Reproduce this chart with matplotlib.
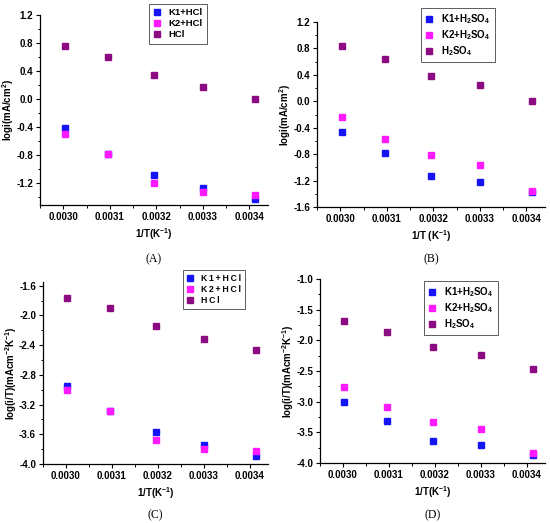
import matplotlib
matplotlib.use("Agg")
import matplotlib.pyplot as plt
from matplotlib.ticker import MultipleLocator, FormatStrFormatter

plt.rcParams['font.family'] = ['Liberation Sans', 'DejaVu Sans']
plt.rcParams['font.weight'] = 'bold'
plt.rcParams['mathtext.fontset'] = 'custom'
plt.rcParams['mathtext.bf'] = 'Liberation Sans:bold'
plt.rcParams['mathtext.rm'] = 'Liberation Sans:bold'
plt.rcParams['mathtext.default'] = 'bf'

# 1/T values (K^-1) for 333, 323, 313, 303, 293 K
inv_T = [0.003003, 0.003096, 0.003195, 0.003300, 0.003413]

# (A) log i, HCl
a_k1 = [-0.42, -0.79, -1.09, -1.28, -1.43]
a_k2 = [-0.50, -0.79, -1.20, -1.33, -1.37]
a_acid = [0.76, 0.605, 0.346, 0.164, -0.005]

# (B) log i, H2SO4
b_k1 = [-0.47, -0.78, -1.125, -1.215, -1.38]
b_k2 = [-0.237, -0.565, -0.817, -0.959, -1.362]
b_acid = [0.832, 0.646, 0.383, 0.242, 0.0]

# (C) log(i/T), HCl
c_k1 = [-2.945, -3.28, -3.57, -3.75, -3.888]
c_k2 = [-3.008, -3.28, -3.68, -3.80, -3.83]
c_acid = [-1.766, -1.90, -2.143, -2.317, -2.47]

# (D) log(i/T), H2SO4
d_k1 = [-2.998, -3.308, -3.635, -3.705, -3.874]
d_k2 = [-2.769, -3.085, -3.324, -3.443, -3.836]
d_acid = [-1.691, -1.866, -2.116, -2.241, -2.475]

hcl_names = ['K1+HCl', 'K2+HCl', 'HCl']
h2so4_names = ['K1+H$_2$SO$_4$', 'K2+H$_2$SO$_4$', 'H$_2$SO$_4$']
colors = ['#1414f5', '#ff1aff', '#8c0a82']

W, H = 550, 523
fig = plt.figure(figsize=(W / 100, H / 100), dpi=100)


def rect(left, top, right, bottom):
    return [left / W, 1 - bottom / H, (right - left) / W, (bottom - top) / H]


panels = [
    dict(r=rect(40, 15, 268, 205), data=(a_k1, a_k2, a_acid), names=hcl_names,
         ylim=(-1.52, 1.2), major=0.4, minor=0.2, ylab_x=-0.105,
         ylabel='logi(mA/cm$^2$)', xlabel='1/T(K$^{-1}$)',
         leg=(149, 4), legsize=6.8, tag='(A)', tag_y=259, spaced=False),
    dict(r=rect(317, 22, 545, 207), data=(b_k1, b_k2, b_acid), names=h2so4_names,
         ylim=(-1.6, 1.2), major=0.4, minor=0.2, ylab_x=-0.105,
         ylabel='logi(mA/cm$^2$)', xlabel='1/T (K$^{-1}$)',
         leg=(421, 8), legsize=7, tag='(B)', tag_y=259, spaced=False),
    dict(r=rect(43, 282, 268, 464), data=(c_k1, c_k2, c_acid), names=hcl_names,
         ylim=(-4.0, -1.55), major=0.4, minor=0.2, ylab_x=-0.107,
         ylabel='log(i/T)(mAcm$^{-2}$K$^{-1}$)', xlabel='1/T(K$^{-1}$)',
         leg=(183, 270), legsize=6.2, tag='(C)', tag_y=515, spaced=True),
    dict(r=rect(320, 279, 545, 463), data=(d_k1, d_k2, d_acid), names=h2so4_names,
         ylim=(-4.0, -1.0), major=0.5, minor=0.25, ylab_x=-0.107,
         ylabel='log(i/T)(mAcm$^{-2}$K$^{-1}$)', xlabel='1/T(K$^{-1}$)',
         leg=(424, 281), legsize=7, tag='(D)', tag_y=515, spaced=False),
]

for p in panels:
    ax = fig.add_axes(p['r'])
    for vals, name, col in zip(p['data'], p['names'], colors):
        label = '\u2009'.join(name) if p['spaced'] else name
        ax.plot(inv_T, vals, 's', ms=4.6, color=col, mec=col, label=label)
    ax.set_xlim(0.00295, 0.00344)
    ax.set_ylim(*p['ylim'])
    ax.spines['top'].set_visible(False)
    ax.spines['right'].set_visible(False)
    for s in ('left', 'bottom'):
        ax.spines[s].set_linewidth(0.9)
    ax.xaxis.set_major_locator(MultipleLocator(0.0001))
    ax.xaxis.set_minor_locator(MultipleLocator(0.00005))
    ax.xaxis.set_major_formatter(FormatStrFormatter('%.4f'))
    ax.yaxis.set_major_locator(MultipleLocator(p['major']))
    ax.yaxis.set_minor_locator(MultipleLocator(p['minor']))
    ax.yaxis.set_major_formatter(FormatStrFormatter('%.1f'))
    ax.tick_params(which='major', direction='out', length=3, width=0.8, labelsize=7, pad=2)
    ax.tick_params(which='minor', direction='out', length=1.8, width=0.7)
    for lab in ax.get_xticklabels() + ax.get_yticklabels():
        lab.set_fontweight('bold')
    ax.set_ylabel(p['ylabel'], fontsize=7, fontweight='bold')
    ax.yaxis.set_label_coords(p['ylab_x'], 0.5)
    ax.set_xlabel(p['xlabel'], fontsize=7, fontweight='bold', labelpad=3)
    lx, ly = p['leg']
    leg = ax.legend(loc='upper left', bbox_to_anchor=(lx / W, 1 - ly / H),
                    bbox_transform=fig.transFigure, frameon=True, fancybox=False,
                    fontsize=p['legsize'], handlelength=0.7, handletextpad=0.9,
                    borderpad=0.45, labelspacing=0.22, borderaxespad=0)
    leg.get_frame().set_edgecolor('#333333')
    leg.get_frame().set_linewidth(0.7)
    for t in leg.get_texts():
        t.set_fontweight('bold')
    cx = (p['r'][0] + p['r'][2] / 2)
    fig.text(cx, 1 - p['tag_y'] / H, p['tag'], ha='center', va='center',
             fontsize=8.5, family='Liberation Serif', fontweight='normal')

fig.savefig('out.png', dpi=100)
